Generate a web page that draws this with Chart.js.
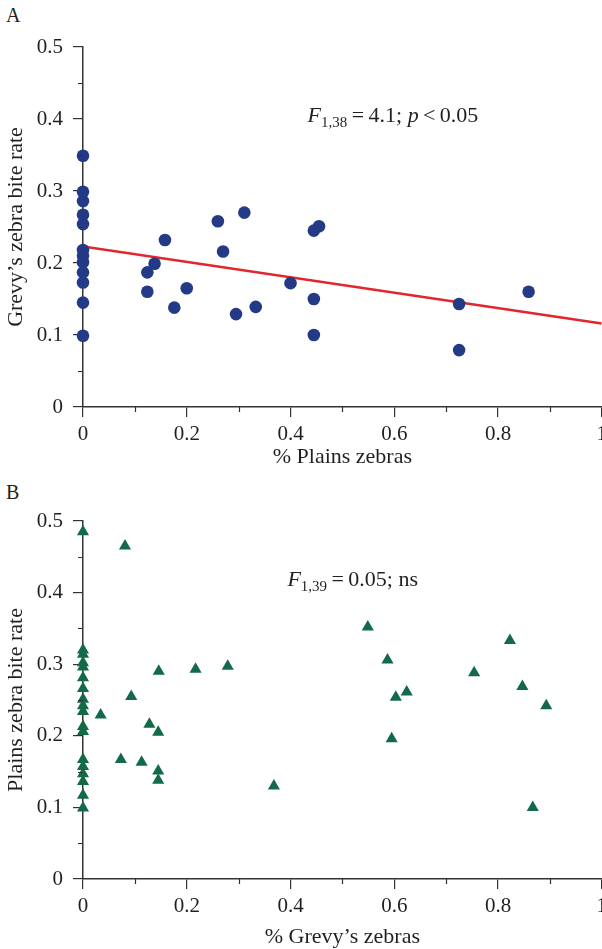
<!DOCTYPE html>
<html>
<head>
<meta charset="utf-8">
<script src="https://cdn.jsdelivr.net/npm/chart.js@4.4.0/dist/chart.umd.min.js"></script>
<style>
  html, body { margin: 0; padding: 0; background: #fff; overflow: hidden; }
  .panel { position: absolute; left: 0; }
  #wrapA { top: 0; }
  #wrapB { top: 475px; }
  .tag { position: absolute; left: 6px; font: 20px "Liberation Serif", serif; color: #231f20; line-height: 1; }
</style>
</head>
<body>
<div class="tag" style="top:5px">A</div>
<div class="tag" style="top:482px">B</div>
<div class="panel" id="wrapA"><canvas id="chartA" width="612" height="475"></canvas></div>
<div class="panel" id="wrapB"><canvas id="chartB" width="612" height="474"></canvas></div>
<script>
// ---- Panel A: % plains zebras vs Grevy's zebra bite rate ----
const plainsPct = [0, 0, 0, 0, 0, 0, 0, 0, 0, 0, 0, 0,
    0.124, 0.138, 0.124, 0.158, 0.176, 0.200, 0.260, 0.270, 0.295, 0.311,
    0.333, 0.400, 0.445, 0.455, 0.445, 0.445, 0.725, 0.725, 0.859];
const grevyBite = [0.349, 0.299, 0.286, 0.267, 0.254, 0.218, 0.210, 0.201, 0.187, 0.173, 0.145, 0.099,
    0.187, 0.199, 0.160, 0.232, 0.138, 0.165, 0.258, 0.216, 0.129, 0.270,
    0.139, 0.172, 0.245, 0.251, 0.150, 0.100, 0.143, 0.079, 0.160];
// fitted regression line (ends)
const fitX = [0, 1];
const fitY = [0.223, 0.116];

// ---- Panel B: % Grevy's zebras vs plains zebra bite rate ----
const grevyPct = [0, 0, 0, 0, 0, 0, 0, 0, 0, 0, 0, 0, 0, 0, 0, 0, 0, 0,
    0.081, 0.093, 0.034, 0.073, 0.113, 0.128, 0.145, 0.146, 0.145, 0.145,
    0.217, 0.279, 0.368, 0.549, 0.587, 0.595, 0.603, 0.624, 0.754, 0.823,
    0.847, 0.867, 0.893];
const plainsBite = [0.485, 0.320, 0.314, 0.302, 0.296, 0.281, 0.266, 0.251, 0.242, 0.234, 0.213, 0.206,
    0.167, 0.157, 0.147, 0.136, 0.117, 0.099,
    0.465, 0.255, 0.229, 0.167, 0.163, 0.216, 0.205, 0.290, 0.151, 0.138,
    0.293, 0.297, 0.130, 0.352, 0.306, 0.196, 0.254, 0.261, 0.288, 0.333,
    0.269, 0.100, 0.242];

// minor tick positions
const minorY = [0.05, 0.15, 0.25, 0.35, 0.45];
const minorX = [0.1, 0.3, 0.5, 0.7, 0.9];

const NAVY = "#253a86";
const GREEN = "#136a48";
const RED = "#e2262d";
const AXIS = "#333333";
const TEXT = "#231f20";
const SERIF = '"Liberation Serif", "Times New Roman", serif';
const TICK_FONT = { family: SERIF, size: 21 };
const TITLE_FONT = { family: SERIF, size: 22, lineHeight: 1 };

const zip = (xs, ys) => xs.map((x, i) => ({ x, y: ys[i] }));
const fmt = v => String(+v.toFixed(2));

// minor ticks + the stats note, placed through the chart scales
const extras = {
    id: "extras",
    afterDraw(chart, args, opts) {
        const { ctx } = chart;
        const xs = chart.scales.x, ys = chart.scales.y;
        ctx.save();
        ctx.strokeStyle = AXIS;
        ctx.lineWidth = 1.2;
        ctx.beginPath();
        minorY.forEach(v => {
            const p = Math.round(ys.getPixelForValue(v)) + 0.5;
            ctx.moveTo(xs.left - 5, p);
            ctx.lineTo(xs.left, p);
        });
        minorX.forEach(v => {
            const p = Math.round(xs.getPixelForValue(v)) + 0.5;
            ctx.moveTo(p, ys.bottom);
            ctx.lineTo(p, ys.bottom + 5);
        });
        ctx.stroke();

        // stats text
        let x = xs.getPixelForValue(opts.at[0]);
        const y = ys.getPixelForValue(opts.at[1]);
        ctx.fillStyle = TEXT;
        ctx.textBaseline = "alphabetic";
        ctx.textAlign = "left";
        opts.parts.forEach(([txt, font, dy]) => {
            ctx.font = font;
            ctx.fillText(txt, x, y + dy);
            x += ctx.measureText(txt).width;
        });
        ctx.restore();
    }
};

const IT = "italic 22px " + SERIF;
const RG = "22px " + SERIF;
const SUB = "15px " + SERIF;

function makeChart(el, cfg) {
    return new Chart(el, {
        type: "scatter",
        data: { datasets: cfg.datasets },
        options: {
            responsive: false,
            animation: false,
            layout: { padding: { top: cfg.top, left: 0, right: 0, bottom: 0 } },
            plugins: {
                legend: { display: false },
                tooltip: { enabled: false },
                extras: cfg.note
            },
            scales: {
                x: {
                    type: "linear",
                    min: 0, max: 1,
                    ticks: { stepSize: 0.2, padding: 5, color: TEXT, font: TICK_FONT, callback: fmt },
                    grid: { drawOnChartArea: false, tickLength: 10, color: AXIS, lineWidth: 1.2 },
                    border: { color: AXIS, width: 1.5 },
                    title: { display: true, text: cfg.xTitle, color: TEXT, font: TITLE_FONT,
                             padding: { top: 0, bottom: cfg.xTitlePad } },
                    afterFit: s => { s.height = cfg.xHeight; }
                },
                y: {
                    type: "linear",
                    min: 0, max: 0.5,
                    ticks: { stepSize: 0.1, padding: 10, color: TEXT, font: TICK_FONT, callback: fmt },
                    grid: { drawOnChartArea: false, tickLength: 10, color: AXIS, lineWidth: 1.2 },
                    border: { color: AXIS, width: 1.5 },
                    title: { display: true, text: cfg.yTitle, color: TEXT, font: TITLE_FONT,
                             padding: { top: 5.5, bottom: 0 } },
                    afterFit: s => { s.width = 83; }
                }
            }
        },
        plugins: [extras]
    });
}

makeChart(document.getElementById("chartA"), {
    top: 47,
    xHeight: 68,
    xTitlePad: 7,
    xTitle: "% Plains zebras",
    yTitle: "Grevy\u2019s zebra bite rate",
    note: {
        at: [0.433, 0.396],
        parts: [["F", IT, 0], ["1,38", SUB, 5], ["\u2009=\u20094.1; ", RG, 0], ["p", IT, 0], ["\u2009<\u20090.05", RG, 0]]
    },
    datasets: [
        {
            data: zip(plainsPct, grevyBite),
            pointStyle: "circle",
            pointRadius: 6.3,
            backgroundColor: NAVY,
            borderWidth: 0,
            clip: false,
            order: 0
        },
        {
            type: "line",
            data: zip(fitX, fitY),
            borderColor: RED,
            borderWidth: 2.5,
            pointRadius: 0,
            fill: false,
            order: 1
        }
    ]
});

makeChart(document.getElementById("chartB"), {
    top: 46,
    xHeight: 70,
    xTitlePad: 1,
    xTitle: "% Grevy\u2019s zebras",
    yTitle: "Plains zebra bite rate",
    note: {
        at: [0.394, 0.409],
        parts: [["F", IT, 0], ["1,39", SUB, 5], ["\u2009=\u20090.05; ns", RG, 0]]
    },
    datasets: [
        {
            data: zip(grevyPct, plainsBite),
            pointStyle: "triangle",
            pointRadius: 7,
            backgroundColor: GREEN,
            borderWidth: 0,
            clip: false
        }
    ]
});
</script>
</body>
</html>
